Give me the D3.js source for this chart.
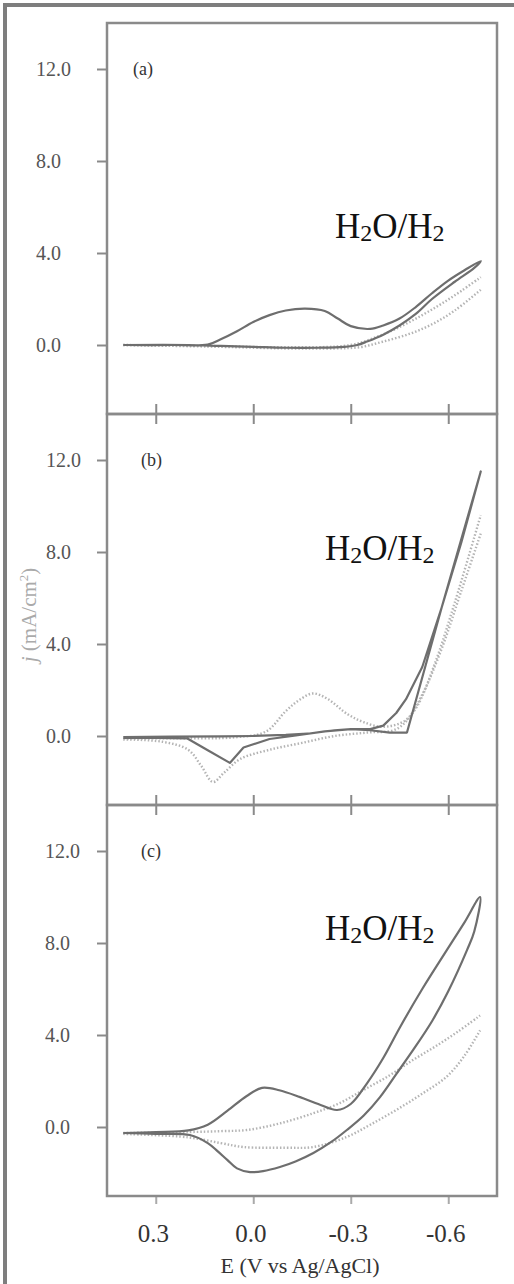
<!DOCTYPE html>
<html>
<head>
  <title>Cyclic voltammograms</title>
  <script src="https://d3js.org/d3.v7.min.js"></script>
  <style>
    body { margin: 0; background: #fff; }
    svg { display: block; }
    text { font-family: "Liberation Serif", "Times New Roman", serif; }
  </style>
</head>
<body>
<div id="chart"></div>
<script>
// ---- data (E in V vs Ag/AgCl, j in mA/cm2) ----
var xTicks = [0.3, 0.0, -0.3, -0.6];
var yTicks = [0, 4, 8, 12];
var panelLabels = ["(a)", "(b)", "(c)"];

// panel (a)
var aSolidE = [0.40, 0.25, 0.14, 0.10, 0.05, 0.00, -0.05, -0.10, -0.16, -0.22, -0.26, -0.30, -0.36, -0.40, -0.45, -0.50, -0.55, -0.60, -0.65, -0.70,
               -0.68, -0.62, -0.55, -0.50, -0.45, -0.40, -0.35, -0.32, -0.28, -0.20, -0.10, 0.00, 0.10, 0.20, 0.40];
var aSolidJ = [0, 0, 0.02, 0.25, 0.6, 1.0, 1.3, 1.5, 1.58, 1.48, 1.15, 0.82, 0.7, 0.85, 1.15, 1.65, 2.25, 2.8, 3.25, 3.65,
               3.35, 2.75, 2.0, 1.35, 0.85, 0.45, 0.15, 0.0, -0.08, -0.12, -0.12, -0.08, -0.04, 0, 0];
var aDot1E = [0.40, 0.10, -0.10, -0.30, -0.38, -0.45, -0.52, -0.58, -0.64, -0.70];
var aDot1J = [0, -0.05, -0.1, 0.0, 0.35, 0.78, 1.3, 1.8, 2.35, 2.95];
var aDot2E = [0.40, 0.10, -0.10, -0.25, -0.33, -0.40, -0.48, -0.55, -0.62, -0.70];
var aDot2J = [0, -0.08, -0.15, -0.15, -0.09, 0.15, 0.48, 0.9, 1.5, 2.4];

// panel (b)
var bSolidE = [0.40, 0.25, 0.10, 0.00, -0.10, -0.18, -0.25, -0.30, -0.36, -0.42, -0.473, -0.58, -0.70,
               -0.64, -0.58, -0.52, -0.47, -0.44, -0.40, -0.36, -0.30, -0.22, -0.12, -0.05, 0.03, 0.072, 0.14, 0.204, 0.30, 0.40];
var bSolidJ = [-0.05, -0.03, -0.02, 0.0, 0.05, 0.12, 0.25, 0.3, 0.25, 0.15, 0.15, 5.6, 11.5,
               8.4, 5.6, 3.0, 1.6, 1.0, 0.45, 0.3, 0.3, 0.2, 0.0, -0.13, -0.5, -1.17, -0.62, -0.1, -0.08, -0.08];
var bDot1E = [0.40, 0.28, 0.20, 0.16, 0.124, 0.09, 0.04, -0.05, -0.15, -0.25, -0.35, -0.44, -0.50, -0.56, -0.62, -0.70];
var bDot1J = [-0.15, -0.25, -0.6, -1.3, -2.0, -1.6, -1.0, -0.6, -0.3, 0.0, 0.15, 0.3, 1.2, 3.2, 5.8, 9.6];
var bDot2E = [-0.70, -0.64, -0.58, -0.52, -0.47, -0.40, -0.34, -0.29, -0.23, -0.184, -0.14, -0.10, -0.04, 0.05, 0.25, 0.40];
var bDot2J = [8.8, 6.3, 3.8, 1.8, 0.7, 0.4, 0.6, 0.95, 1.6, 1.85, 1.55, 1.08, 0.2, -0.05, -0.1, -0.1];

// panel (c)
var cSolidE = [0.40, 0.30, 0.20, 0.14, 0.08, 0.02, -0.027, -0.08, -0.144, -0.20, -0.258, -0.30, -0.35, -0.40, -0.452, -0.52, -0.596, -0.65, -0.698,
               -0.68, -0.658, -0.60, -0.55, -0.492, -0.44, -0.39, -0.34, -0.288, -0.24, -0.185, -0.13, -0.082, -0.03, 0.01, 0.05, 0.08, 0.11, 0.14, 0.195, 0.30, 0.40];
var cSolidJ = [-0.26, -0.22, -0.15, 0.1, 0.7, 1.35, 1.7, 1.6, 1.3, 1.0, 0.74, 1.0, 1.9, 3.0, 4.35, 6.0, 7.7, 8.9, 10.0,
               8.5, 7.7, 5.9, 4.6, 3.35, 2.3, 1.3, 0.5, -0.13, -0.65, -1.13, -1.5, -1.74, -1.92, -1.96, -1.8, -1.43, -1.05, -0.7, -0.35, -0.3, -0.26];
var cDot1E = [0.40, 0.20, 0.10, 0.02, -0.08, -0.185, -0.26, -0.338, -0.42, -0.49, -0.56, -0.63, -0.698];
var cDot1J = [-0.26, -0.22, -0.18, -0.13, 0.15, 0.6, 1.0, 1.6, 2.25, 2.9, 3.5, 4.15, 4.85];
var cDot2E = [0.40, 0.20, 0.10, 0.03, -0.10, -0.185, -0.288, -0.36, -0.44, -0.52, -0.596, -0.65, -0.698];
var cDot2J = [-0.3, -0.45, -0.7, -0.87, -0.9, -0.87, -0.43, 0.1, 0.74, 1.45, 2.2, 3.1, 4.2];

function pts(e, j) { return e.map(function(v, i) { return [v, j[i]]; }); }

// ---- layout ----
var W = 514, H = 1284;
var left = 107, right = 497;
var panels = [
  { top: 23,  bottom: 414,  solid: pts(aSolidE, aSolidJ), dots: [pts(aDot1E, aDot1J), pts(aDot2E, aDot2J)], smooth: true,  labX: 36, h2oX: 335, h2oY: 238 },
  { top: 414, bottom: 805,  solid: pts(bSolidE, bSolidJ), dots: [pts(bDot1E, bDot1J), pts(bDot2E, bDot2J)], smooth: false, labX: 46, h2oX: 325, h2oY: 560 },
  { top: 805, bottom: 1196, solid: pts(cSolidE, cSolidJ), dots: [pts(cDot1E, cDot1J), pts(cDot2E, cDot2J)], smooth: true,  labX: 45, h2oX: 325, h2oY: 940 }
];

var svg = d3.select("#chart").append("svg")
  .attr("width", W)
  .attr("height", H);

// outer frame (top and left)
svg.append("path")
  .attr("d", "M5," + H + " L5,5 L" + W + ",5")
  .attr("fill", "none")
  .attr("stroke", "#7e7e7e")
  .attr("stroke-width", 4);

var x = d3.scaleLinear().domain([0.45, -0.75]).range([left, right]);

panels.forEach(function(p, i) {
  var y = d3.scaleLinear().domain([-3, 14]).range([p.bottom, p.top]);
  var g = svg.append("g");

  // y axis
  var ya = g.append("g")
    .attr("transform", "translate(" + left + ",0)")
    .call(d3.axisLeft(y).tickValues(yTicks).tickSize(10).tickFormat(function(d) { return d.toFixed(1); }));
  ya.select(".domain").remove();
  ya.selectAll("line").attr("stroke", "#8a8a8a").attr("stroke-width", 2);
  ya.selectAll("text")
    .attr("x", p.labX - left)
    .attr("text-anchor", "start")
    .attr("font-size", 20)
    .attr("fill", "#555");

  // x axis
  var last = (i === panels.length - 1);
  var xa = g.append("g")
    .attr("transform", "translate(0," + p.bottom + ")")
    .call(d3.axisBottom(x).tickValues(xTicks).tickSize(last ? 8 : 10)
      .tickFormat(function(d) { return last ? d.toFixed(1) : ""; }));
  xa.select(".domain").remove();
  xa.selectAll("line").attr("stroke", last ? "#aaa" : "#8a8a8a").attr("stroke-width", 2)
    .attr("y1", last ? 0 : -10);
  xa.selectAll("text")
    .attr("y", 46)
    .attr("dy", 0)
    .attr("dx", -3)
    .attr("font-size", 25)
    .attr("fill", "#333");

  // curves
  var line = d3.line()
    .x(function(d) { return x(d[0]); })
    .y(function(d) { return y(d[1]); })
    .curve(p.smooth ? d3.curveCatmullRom.alpha(0.5) : d3.curveLinear);
  var dotLine = d3.line()
    .x(function(d) { return x(d[0]); })
    .y(function(d) { return y(d[1]); })
    .curve(d3.curveCatmullRom.alpha(0.5));

  p.dots.forEach(function(d) {
    g.append("path")
      .attr("d", dotLine(d))
      .attr("fill", "none")
      .attr("stroke", "#b4b4b4")
      .attr("stroke-width", 2.4)
      .attr("stroke-dasharray", "1.5,2");
  });
  g.append("path")
    .attr("d", line(p.solid))
    .attr("fill", "none")
    .attr("stroke", "#6e6e6e")
    .attr("stroke-width", 2.2)
    .attr("stroke-linejoin", "round");

  // frame
  g.append("rect")
    .attr("x", left).attr("y", p.top)
    .attr("width", right - left).attr("height", p.bottom - p.top)
    .attr("fill", "none")
    .attr("stroke", "#8a8a8a")
    .attr("stroke-width", 2.5);

  // panel label
  g.append("text")
    .attr("x", 133 + (i === 0 ? 0 : 8))
    .attr("y", y(12) + 6)
    .attr("font-size", 18)
    .attr("fill", "#333")
    .text(panelLabels[i]);

  // H2O/H2 label
  var t = g.append("text")
    .attr("x", p.h2oX)
    .attr("y", p.h2oY)
    .attr("font-size", 35)
    .attr("fill", "#111");
  t.append("tspan").text("H");
  t.append("tspan").attr("font-size", 24).attr("dy", 3).text("2");
  t.append("tspan").attr("dy", -3).text("O/H");
  t.append("tspan").attr("font-size", 24).attr("dy", 3).text("2");
});

// axis titles
svg.append("text")
  .attr("x", 300)
  .attr("y", 1273)
  .attr("text-anchor", "middle")
  .attr("font-size", 22)
  .attr("fill", "#333")
  .text("E (V vs Ag/AgCl)");

var yt = svg.append("text")
  .attr("transform", "translate(36,615) rotate(-90)")
  .attr("text-anchor", "middle")
  .attr("font-size", 21)
  .attr("fill", "#aaa");
yt.append("tspan").attr("font-style", "italic").text("j");
yt.append("tspan").text(" (mA/cm");
yt.append("tspan").attr("font-size", 13).attr("dy", -8).text("2");
yt.append("tspan").attr("dy", 8).text(")");
</script>
</body>
</html>
